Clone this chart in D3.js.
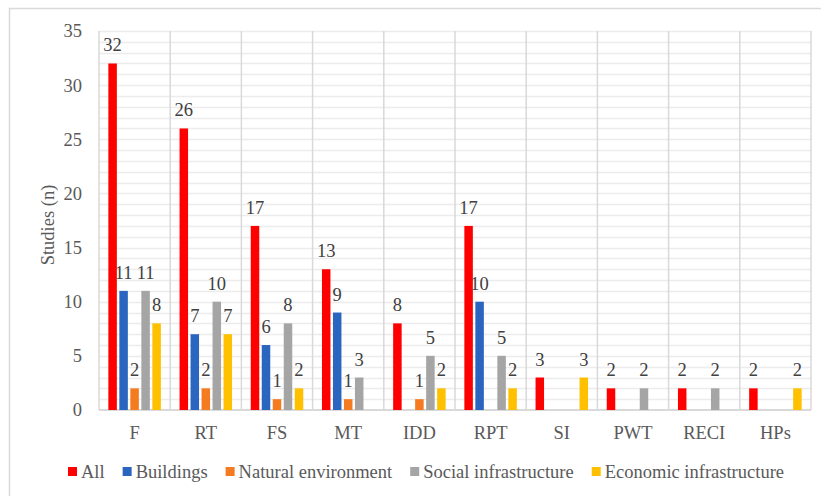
<!DOCTYPE html>
<html>
<head>
<meta charset="utf-8">
<script src="https://cdn.jsdelivr.net/npm/d3@7"></script>
<style>
  html, body { margin: 0; padding: 0; background: #fff; }
  svg text { font-family: "Liberation Serif", "Tinos", "Times New Roman", "DejaVu Serif", serif !important; }
</style>
</head>
<body>
<svg id="chart" width="821" height="496"></svg>
<script>
// Study counts per outcome category, split by infrastructure type
const categories = ["F", "RT", "FS", "MT", "IDD", "RPT", "SI", "PWT", "RECI", "HPs"];
const seriesNames = ["All", "Buildings", "Natural environment", "Social infrastructure", "Economic infrastructure"];
const allStudies   = [32, 26, 17, 13, 8, 17, 3, 2, 2, 2];
const buildings    = [11, 7, 6, 9, 0, 10, 0, 0, 0, 0];
const naturalEnv   = [2, 2, 1, 1, 1, 0, 0, 0, 0, 0];
const socialInfra  = [11, 10, 8, 3, 5, 5, 0, 2, 2, 0];
const economicInfra = [8, 7, 2, 0, 2, 2, 3, 0, 0, 2];
const yTicks = [0, 5, 10, 15, 20, 25, 30, 35];
const seriesColors = ["#ff0000", "#2a66c0", "#f47b20", "#a5a5a5", "#ffc000"];

const seriesValues = [allStudies, buildings, naturalEnv, socialInfra, economicInfra];
const FONT = "'Liberation Serif', 'Times New Roman', serif";
const FS = 18.5;

const svg = d3.select("#chart");
const plot = { left: 99, right: 811, top: 31, bottom: 410 };

// Outer chart frame (top and left edges visible)
svg.append("path")
  .attr("d", "M9.5,496 V8.5 H821")
  .attr("fill", "none")
  .attr("stroke", "#d9d9d9")
  .attr("stroke-width", 1.5);

const x = d3.scaleBand().domain(categories).range([plot.left, plot.right]).paddingInner(0).paddingOuter(0);
const xInner = d3.scaleBand().domain(seriesNames).range([0, x.bandwidth()]).paddingInner(0.227).paddingOuter(0.85);
const y = d3.scaleLinear().domain([0, 35]).range([plot.bottom, plot.top]);

// Horizontal gridlines every unit
svg.append("g")
  .selectAll("line")
  .data(d3.range(1, 36))
  .join("line")
  .attr("x1", plot.left).attr("x2", plot.right)
  .attr("y1", d => Math.round(y(d)) + 0.5).attr("y2", d => Math.round(y(d)) + 0.5)
  .attr("stroke", "#ececec")
  .attr("stroke-width", 1.5);

// Category separators
svg.append("g")
  .selectAll("line")
  .data(categories.map(c => x(c)).concat([plot.right]))
  .join("line")
  .attr("x1", d => d).attr("x2", d => d)
  .attr("y1", plot.top).attr("y2", plot.bottom)
  .attr("stroke", "#d9d9d9")
  .attr("stroke-width", 1.5);

// Baseline
svg.append("line")
  .attr("x1", plot.left).attr("x2", plot.right)
  .attr("y1", y(0)).attr("y2", y(0))
  .attr("stroke", "#d9d9d9")
  .attr("stroke-width", 2);

// Bars
const barData = [];
categories.forEach((c, i) => {
  seriesNames.forEach((s, j) => {
    barData.push({ cat: c, series: s, value: seriesValues[j][i], color: seriesColors[j] });
  });
});

const groups = svg.append("g");
groups.selectAll("rect")
  .data(barData.filter(d => d.value > 0))
  .join("rect")
  .attr("x", d => x(d.cat) + xInner(d.series))
  .attr("width", xInner.bandwidth())
  .attr("y", d => y(d.value))
  .attr("height", d => y(0) - y(d.value))
  .attr("fill", d => d.color);

// Value labels
groups.selectAll("text")
  .data(barData.filter(d => d.value > 0))
  .join("text")
  .attr("x", d => x(d.cat) + xInner(d.series) + xInner.bandwidth() / 2)
  .attr("y", d => y(d.value) - 12)
  .attr("text-anchor", "middle")
  .attr("font-family", FONT)
  .attr("font-size", FS)
  .attr("fill", "#404040")
  .text(d => d.value);

// Y axis tick labels
const yAxis = d3.axisLeft(y).tickValues(yTicks).tickSize(0).tickPadding(17);
const yg = svg.append("g").attr("transform", `translate(${plot.left},0)`).call(yAxis);
yg.attr("font-family", FONT).attr("font-size", FS);
yg.select(".domain").remove();
yg.selectAll("text").attr("fill", "#595959");

// X axis category labels
const xAxis = d3.axisBottom(x).tickSize(0).tickPadding(16);
const xg = svg.append("g").attr("transform", `translate(0,${plot.bottom})`).call(xAxis);
xg.attr("font-family", FONT).attr("font-size", FS);
xg.select(".domain").remove();
xg.selectAll("text").attr("fill", "#595959");

// Y axis title
svg.append("text")
  .attr("transform", "translate(54,225) rotate(-90)")
  .attr("text-anchor", "middle")
  .attr("font-family", FONT)
  .attr("font-size", FS)
  .attr("fill", "#595959")
  .text("Studies (n)");

// Legend
const legend = svg.append("g");
let lx = 68;
seriesNames.forEach((name, j) => {
  legend.append("rect")
    .attr("x", lx).attr("y", 467)
    .attr("width", 9).attr("height", 9)
    .attr("fill", seriesColors[j]);
  const t = legend.append("text")
    .attr("x", lx + 13).attr("y", 478)
    .attr("font-family", FONT)
    .attr("font-size", FS)
    .attr("fill", "#595959")
    .text(name);
  lx += 13 + t.node().getComputedTextLength() + 18;
});
</script>
</body>
</html>
